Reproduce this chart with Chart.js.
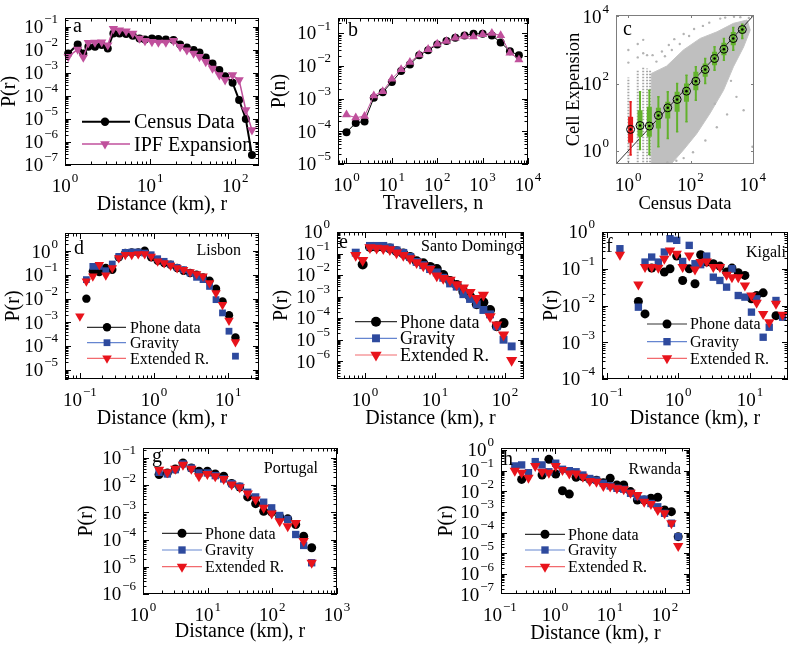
<!DOCTYPE html>
<html>
<head>
<meta charset="utf-8">
<script src="https://cdn.jsdelivr.net/npm/chart.js@4.4.1/dist/chart.umd.min.js"></script>
<style>
  body { margin: 0; background: #fff; }
  #wrap { position: relative; width: 800px; height: 650px; }
  #wrap canvas { position: absolute; left: 0; top: 0; }
</style>
</head>
<body>
<div id="wrap"></div>
<script>
// ---- panel a : trip length distribution, census vs IPF expansion ----
const aDistance = [1.09, 1.41, 1.64, 1.88, 2.25, 2.70, 3.18, 3.70, 4.36, 5.22, 6.25, 7.5, 8.7, 10.5, 12.5, 15.3, 18.8, 22.5, 27, 32.4, 38, 45, 54, 65, 76, 93, 111, 133, 157];
const aCensus = [6.97e-3, 0.0171, 6.97e-3, 0.01355, 0.01355, 0.0160, 0.01148, 0.0514, 0.0514, 0.0481, 0.0406, 0.0312, 0.0282, 0.0312, 0.0292, 0.0282, 0.0264, 0.0171, 0.0127, 9.7e-3, 7.7e-3, 4.68e-3, 2.56e-3, 1.32e-3, 7.2e-4, 3.72e-4, 6.6e-5, 9.9e-6, 2.7e-7];
const aIPF = [5.0e-3, 0.0104, 4.68e-3, 0.0202, 0.0209, 0.0216, 0.0160, 0.0818, 0.0716, 0.0649, 0.0514, 0.0312, 0.0247, 0.0223, 0.0209, 0.0209, 0.0247, 0.01355, 9.7e-3, 6.97e-3, 5.0e-3, 3.03e-3, 1.56e-3, 8.0e-4, 4.86e-4, 8.0e-4, 4.86e-4, 2.43e-5, 3.3e-6];

// ---- panel b : number of travellers per link ----
const bTravellers = [1, 1.6, 2.5, 4, 6.3, 10, 16, 25, 40, 63, 100, 160, 250, 400, 630, 1000, 1600, 2500, 4000, 6300];
const bCensus = [9.3e-5, 1.8e-4, 2.0e-4, 1.05e-3, 1.55e-3, 3.2e-3, 6.9e-3, 0.011, 0.021, 0.030, 0.045, 0.057, 0.072, 0.085, 0.096, 0.096, 0.085, 0.052, 0.028, 0.021];
const bIPF = [3.2e-4, 2.6e-4, 2.9e-4, 1.23e-3, 1.66e-3, 4.0e-3, 7.8e-3, 0.0129, 0.022, 0.032, 0.047, 0.057, 0.072, 0.081, 0.078, 0.091, 0.10, 0.085, 0.025, 0.0155];

// ---- panel c : cell expansion vs census, binned box plots ----
const cCensusBins = [1.18, 2.37, 4.73, 9.24, 18.5, 37, 74, 148, 296, 592, 1183, 2366, 4624];
const cMedian = [4.3, 5.6, 5.4, 11.2, 18.9, 33.5, 59.3, 117, 262, 556, 1054, 2188, 4055];
const cBoxLow = [1.72, 2.59, 2.59, 4.6, 9.1, 14.4, 28.5, 63.4, 158, 352, 698, 1387, 3083];
const cBoxHigh = [10.2, 16.1, 20.2, 18.9, 28.5, 56.6, 100, 223, 394, 877, 1626, 3454, 5093];
const cWhiskerLow = [0.74, 1.09, 0.77, 1.31, 2.31, 3.65, 7.2, 32, 100, 250, 496, 984, 2188];
const cWhiskerHigh = [28.5, 56.6, 63.4, 40.2, 56.6, 100, 177, 314, 556, 1236, 2188, 4645, 5848];
const cCloudX = [5.5, 5.5, 10, 17, 59, 204, 708, 2400, 6600, 8300, 5100, 2400, 1150, 426, 158, 59, 25, 5.5];
const cCloudY = [0.42, 200, 260, 330, 1000, 2200, 3470, 6200, 7800, 3900, 1230, 316, 63, 13, 3.2, 1.04, 0.42, 0.42];
const cStreakX = [1, 2, 3, 4, 5];
const cStreakTop = [150, 260, 300, 280, 250];
const cStreakBottom = 0.45;
const cStrayX = [1, 2, 3, 4, 6, 8, 12, 15, 20, 25, 30, 45, 60, 90, 130, 250, 400, 900, 1300, 2500, 4000, 5100, 9800, 3000, 1500, 700, 300, 120, 60, 35, 18, 600, 2000, 7500, 1, 2, 3];
const cStrayY = [420, 600, 800, 700, 700, 450, 900, 650, 1400, 1000, 2100, 1500, 3000, 2600, 4200, 5200, 6500, 8600, 9200, 9800, 9500, 16, 1.3, 40, 12, 5, 2, 0.9, 0.6, 0.5, 0.45, 25, 120, 9000, 1000, 1500, 2000];
const cDiagonal = [0.4, 11000];

// ---- panels d-h : phone data vs gravity and extended radiation ----
const dDistance = [0.1, 0.1223, 0.1495, 0.1829, 0.2237, 0.2735, 0.3345, 0.409, 0.500, 0.612, 0.748, 0.915, 1.119, 1.368, 1.673, 2.046, 2.502, 3.06, 3.742, 4.577, 5.598, 6.846, 8.372, 10.24, 12.52];
const dPhone = [null, 0.010, 0.143, 0.134, 0.198, 0.168, 0.557, 0.85, 0.91, 0.91, 1.07, 0.557, 0.40, 0.32, 0.273, 0.198, 0.152, 0.122, 0.103, 0.080, 0.058, 0.0265, 7.7e-3, 2.0e-3, 2.3e-4];
const dGravity = [null, 0.064, 0.232, 0.232, 0.152, 0.292, 0.615, 0.91, 0.94, 0.94, 0.85, 0.72, 0.49, 0.38, 0.292, 0.211, 0.168, 0.122, 0.080, 0.064, 0.033, 9.1e-3, 2.5e-3, 4.2e-4, 3.7e-5];
const dExtended = [1.8e-3, 0.054, 0.088, 0.273, 0.097, 0.198, 0.523, 0.72, 0.72, 0.77, 0.77, 0.615, 0.38, 0.32, 0.256, 0.198, 0.168, 0.134, 0.110, 0.088, 0.046, 0.0173, 5.6e-3, 1.18e-3, 1.48e-4];

const eDistance = [0.74, 0.93, 1.18, 1.47, 1.83, 2.27, 2.83, 3.53, 4.4, 5.47, 6.8, 8.5, 10.6, 13.1, 16.4, 20.4, 25.4, 31.6, 39.4, 49, 61, 76, 95, 124];
const ePhone = [null, 0.031, 0.20, 0.20, 0.20, 0.17, 0.128, 0.10, 0.070, 0.044, 0.035, 0.024, 0.019, 0.010, 5.3e-3, 3.5e-3, 1.7e-3, 1.0e-3, 4.4e-4, 5.5e-4, 2.4e-4, 4.2e-5, 5.9e-5, null];
const eGravity = [0.11, null, 0.226, 0.226, 0.226, 0.19, 0.14, 0.107, 0.070, 0.041, 0.029, 0.019, 0.0133, 7.5e-3, 4.1e-3, 2.9e-3, 1.3e-3, 7.8e-4, 4.4e-4, 2.4e-4, 1.5e-4, 4.2e-5, 1.0e-5, 4.9e-6];
const eExtended = [0.084, 0.049, 0.19, 0.18, 0.17, 0.153, 0.11, 0.084, 0.059, 0.038, 0.027, 0.019, 9.3e-3, 7.1e-3, 5.9e-3, 3.7e-3, 2.6e-3, 1.6e-3, 8.4e-4, 1.2e-3, 1.2e-4, 4.9e-5, 1.7e-5, 1.1e-6];

const fDistance = [0.153, 0.277, 0.343, 0.425, 0.526, 0.638, 0.766, 0.95, 1.15, 1.42, 1.71, 2.05, 2.49, 3.08, 3.81, 4.72, 5.61, 6.87, 8.51, 10.5, 12.4, 15.3, 18.6, 23.1, 28.6];
const fPhone = [null, 0.0129, 0.0059, 0.104, null, 0.081, 0.10, 0.221, 0.048, 0.10, 0.039, 0.241, 0.152, 0.137, 0.118, 0.081, 0.104, 0.078, 0.066, 0.0152, 0.0187, 0.0221, null, 5.3e-3, null];
const fGravity = [0.351, 0.009, 0.152, 0.208, 0.152, 0.285, 0.658, 0.593, 0.158, 0.433, 0.137, 0.129, 0.221, 0.059, 0.048, 0.0316, 0.10, 0.0187, 0.0169, 0.0066, 0.0152, 1.37e-3, 2.56e-3, 0.0137, 4.8e-3];
const fExtended = [0.241, 0.0374, 0.111, 0.111, 0.106, 0.187, 0.316, 0.256, 0.111, 0.231, 0.096, 0.152, 0.158, 0.111, 0.111, 0.069, 0.059, 0.059, 0.035, 0.0187, 0.0118, 5.9e-3, 3.5e-3, 0.0111, 5.6e-3];

const gDistance = [1.77, 2.38, 3.16, 4.15, 5.59, 7.34, 9.89, 13.1, 17.7, 23.5, 31.3, 41.6, 55.2, 73.5, 97.7, 130, 173, 230, 305, 406];
const gPhone = [0.0245, 0.0282, 0.0395, 0.0656, 0.043, 0.0324, 0.0324, 0.0259, 0.0213, 0.0115, 8.6e-3, 3.7e-3, 2.1e-3, 1.1e-3, 1.02e-3, 6.9e-4, 5.8e-4, 3.6e-4, 1.34e-4, 5.0e-5];
const gGravity = [0.0298, 0.0259, 0.0373, 0.0603, 0.043, 0.0282, 0.0282, 0.0225, 0.017, 0.0115, 9.1e-3, 5.5e-3, 3.7e-3, 2.37e-3, 1.47e-3, 7.7e-4, 5.5e-4, 1.54e-4, 6.1e-5, 1.41e-5];
const gExtended = [0.0373, 0.0298, 0.0406, 0.057, 0.0406, 0.0213, 0.0259, 0.0213, 0.017, 0.0105, 8.4e-3, 4.9e-3, 2.96e-3, 1.47e-3, 9.1e-4, 4.75e-4, 3.1e-4, 4.1e-4, 8.8e-5, 1.41e-5];

const hDistance = [0.187, 0.249, 0.331, 0.440, 0.585, 0.778, 1.035, 1.375, 1.83, 2.43, 3.23, 4.30, 5.70, 7.59, 10.1, 13.4, 17.8, 23.7, 31.5, 41.9, 55.6, 74.0, 98.4, 131, 174];
const hPhone = [null, 0.038, null, null, 0.062, 0.355, 0.069, 0.0107, 7.4e-3, 0.048, 0.051, 0.038, 0.035, 0.026, 0.043, 0.0204, 0.0204, 9.8e-3, 3.8e-3, 3.8e-3, 4.7e-3, 5.2e-3, 1.26e-3, 1.05e-3, 6.5e-5];
const hGravity = [0.17, 0.19, 0.08, 0.275, 0.19, 0.089, 0.23, 0.117, 0.10, 0.089, 0.062, 0.042, 0.035, 0.0245, 0.0183, 0.0141, 0.0127, 8.1e-3, 5.6e-3, 4.2e-3, 2.6e-3, 1.8e-3, 8.7e-4, 2.9e-4, 6.5e-5];
const hExtended = [0.10, 0.08, 0.046, 0.17, 0.089, 0.08, 0.17, 0.108, 0.074, 0.074, 0.051, 0.032, 0.029, 0.0183, 0.017, 0.0141, 0.0127, 8.7e-3, 6.7e-3, 3.2e-3, 2.44e-3, 1.26e-3, 8.7e-4, 2.9e-4, 2.3e-5];

const SERIF = "'Liberation Serif', 'Times New Roman', Times, serif";
const MAGENTA = '#c0509c';
const BLUE = '#2e4a9e';
const BLUE_LINE = '#6585d0';
const RED = '#e8131b';
const RED_LINE = '#f26a6e';
const GREEN = '#62b22c';
const CRED = '#e41a1c';

function pts(xs, ys) {
    return xs.map((x, i) => ({ x: x, y: ys[i] })).filter(p => p.y !== null);
}

// vertical segments, broken with empty points
function segments(xs, lo, hi) {
    const out = [];
    xs.forEach((x, i) => {
        out.push({ x: x, y: lo[i] }, { x: x, y: hi[i] }, { x: x, y: null });
    });
    return out;
}

function caps(xs, ys) {
    const out = [];
    xs.forEach((x, i) => {
        out.push({ x: x / 1.09, y: ys[i] }, { x: x * 1.09, y: ys[i] }, { x: x, y: null });
    });
    return out;
}

function marker(ctx, style, x, y, r, color, rot) {
    ctx.fillStyle = color;
    ctx.beginPath();
    if (style === 'circle') {
        ctx.arc(x, y, r, 0, Math.PI * 2);
    } else if (style === 'rect') {
        const s = r * Math.SQRT1_2;
        ctx.rect(x - s, y - s, 2 * s, 2 * s);
    } else {
        let rad = (rot || 0) * Math.PI / 180;
        ctx.moveTo(x + Math.sin(rad) * r, y - Math.cos(rad) * r);
        rad += 2 * Math.PI / 3;
        ctx.lineTo(x + Math.sin(rad) * r, y - Math.cos(rad) * r);
        rad += 2 * Math.PI / 3;
        ctx.lineTo(x + Math.sin(rad) * r, y - Math.cos(rad) * r);
        ctx.closePath();
    }
    ctx.fill();
}

function powerLabel(ctx, px, base, exp, size, align) {
    const sup = exp < 0 ? '\u2212' + Math.abs(exp) : String(exp);
    const small = Math.round(size * 0.7);
    ctx.font = size + 'px ' + SERIF;
    const w1 = ctx.measureText('10').width;
    ctx.font = small + 'px ' + SERIF;
    const w2 = ctx.measureText(sup).width;
    const x0 = align === 'center' ? px - (w1 + 1 + w2) / 2 : px - (w1 + 1 + w2);
    ctx.textAlign = 'left';
    ctx.textBaseline = 'alphabetic';
    ctx.font = size + 'px ' + SERIF;
    ctx.fillText('10', x0, base);
    ctx.font = small + 'px ' + SERIF;
    ctx.fillText(sup, x0 + w1 + 1, base - size * 0.52);
}

function logTicks(scale, o) {
    const out = [];
    const lo = Math.floor(Math.log10(scale.min));
    const hi = Math.ceil(Math.log10(scale.max));
    for (let d = lo; d <= hi; d++) {
        for (let m = 1; m <= 9; m++) {
            if (m > 1 && !o.minor) break;
            const v = m * Math.pow(10, d);
            if (v < scale.min * 0.9999 || v > scale.max * 1.0001) continue;
            if (o.tickExps && o.tickExps.indexOf(d) < 0) continue;
            out.push({ v: v, major: m === 1 });
        }
    }
    return out;
}

// box, inward ticks, power-of-ten labels, titles and key
const framePlugin = {
    id: 'frame',
    afterDraw(chart, args, o) {
        const ctx = chart.ctx;
        const a = chart.chartArea;
        const xs = chart.scales.x, ys = chart.scales.y;
        ctx.save();
        ctx.strokeStyle = o.boxColor;
        ctx.lineWidth = 1;
        ctx.beginPath();
        logTicks(xs, o).forEach(t => {
            const p = Math.round(xs.getPixelForValue(t.v)) + 0.5;
            const len = t.major ? o.tickLen : o.minorLen;
            ctx.moveTo(p, a.bottom); ctx.lineTo(p, a.bottom - len);
            ctx.moveTo(p, a.top); ctx.lineTo(p, a.top + len);
        });
        logTicks(ys, o).forEach(t => {
            const p = Math.round(ys.getPixelForValue(t.v)) + 0.5;
            const len = t.major ? o.tickLen : o.minorLen;
            ctx.moveTo(a.left, p); ctx.lineTo(a.left + len, p);
            ctx.moveTo(a.right, p); ctx.lineTo(a.right - len, p);
        });
        ctx.stroke();
        ctx.strokeRect(a.left + 0.5, a.top + 0.5, a.right - a.left - 1, a.bottom - a.top - 1);

        ctx.fillStyle = '#000';
        o.xExps.forEach(e => powerLabel(ctx, xs.getPixelForValue(Math.pow(10, e)), a.bottom + 27, e, o.tickSize, 'center'));
        o.yExps.forEach(e => powerLabel(ctx, a.left - 7, ys.getPixelForValue(Math.pow(10, e)) + o.tickSize * 0.33, e, o.tickSize, 'right'));

        ctx.font = o.titleSize + 'px ' + SERIF;
        ctx.textAlign = 'center';
        ctx.textBaseline = 'alphabetic';
        ctx.fillText(o.xTitle, (a.left + a.right) / 2, a.bottom + (o.xTitleDy || 45));
        ctx.save();
        ctx.translate(o.yTitleX, (a.top + a.bottom) / 2);
        ctx.rotate(-Math.PI / 2);
        ctx.textBaseline = 'middle';
        ctx.fillText(o.yTitle, 0, 0);
        ctx.restore();

        ctx.textBaseline = 'alphabetic';
        ctx.font = '20px ' + SERIF;
        ctx.textAlign = 'left';
        ctx.fillText(o.letter[0], o.letter[1], o.letter[2]);
        if (o.city) {
            ctx.font = '16px ' + SERIF;
            ctx.textAlign = 'right';
            ctx.fillText(o.city[0], o.city[1], o.city[2]);
        }

        if (o.legend) {
            const L = o.legend;
            L.rows.forEach(r => {
                ctx.strokeStyle = r.line;
                ctx.lineWidth = r.lw || 1.2;
                ctx.beginPath();
                ctx.moveTo(L.x1, r.y);
                ctx.lineTo(L.x2, r.y);
                ctx.stroke();
                marker(ctx, r.style, L.mx, r.y, r.r, r.color, r.rot);
                ctx.fillStyle = '#000';
                ctx.font = L.size + 'px ' + SERIF;
                ctx.textAlign = 'left';
                ctx.textBaseline = 'alphabetic';
                ctx.fillText(r.text, L.tx, r.y + L.size * 0.33);
            });
        }
        ctx.restore();
    }
};

function makePanel(frame, xRange, yRange, datasets) {
    const cv = document.createElement('canvas');
    cv.width = 800;
    cv.height = 650;
    document.getElementById('wrap').appendChild(cv);
    const b = frame.box;
    return new Chart(cv.getContext('2d'), {
        type: 'scatter',
        data: { datasets: datasets },
        options: {
            responsive: false,
            animation: false,
            devicePixelRatio: 1,
            events: [],
            layout: { padding: { left: b[0], top: b[1], right: 800 - b[2], bottom: 650 - b[3] } },
            scales: {
                x: { type: 'logarithmic', min: xRange[0], max: xRange[1], display: false },
                y: { type: 'logarithmic', min: yRange[0], max: yRange[1], display: false }
            },
            plugins: { legend: { display: false }, tooltip: { enabled: false }, frame: frame }
        },
        plugins: [framePlugin]
    });
}

function frameDefaults(extra) {
    return Object.assign({
        boxColor: '#000', minor: true, tickLen: 6, minorLen: 3.5, tickExps: null,
        tickSize: 19, titleSize: 20, xTitle: 'Distance (km), r', yTitle: 'P(r)'
    }, extra);
}

function modelKey(size, x1, x2, mx, tx, ys, sz) {
    return {
        size: size, x1: x1, x2: x2, mx: mx, tx: tx,
        rows: [
            { text: 'Phone data', y: ys[0], style: 'circle', color: '#000', line: '#333', r: sz[0] },
            { text: 'Gravity', y: ys[1], style: 'rect', color: BLUE, line: BLUE_LINE, r: sz[1] },
            { text: 'Extended R.', y: ys[2], style: 'triangle', rot: 180, color: RED, line: RED_LINE, r: sz[2] }
        ]
    };
}

function modelSets(x, phone, gravity, extended, sz) {
    return [
        { data: pts(x, extended), pointStyle: 'triangle', pointRotation: 180, pointRadius: sz[2], pointBorderWidth: 0,
          pointBackgroundColor: RED, showLine: false, order: 1, clip: false },
        { data: pts(x, gravity), pointStyle: 'rect', pointRadius: sz[1], pointBorderWidth: 0,
          pointBackgroundColor: BLUE, showLine: false, order: 2, clip: false },
        { data: pts(x, phone), pointStyle: 'circle', pointRadius: sz[0], pointBorderWidth: 0,
          pointBackgroundColor: '#000', showLine: false, order: 3, clip: false }
    ];
}

// a
makePanel(frameDefaults({
    box: [65, 18, 259, 165], xExps: [0, 1, 2], yExps: [-1, -2, -3, -4, -5, -6, -7],
    yTitleX: 10, letter: ['a', 73, 32],
    legend: { size: 20, x1: 82, x2: 130, mx: 105, tx: 134, rows: [
        { text: 'Census Data', y: 121.7, style: 'circle', color: '#000', line: '#000', lw: 2, r: 4.2 },
        { text: 'IPF Expansion', y: 144, style: 'triangle', rot: 180, color: MAGENTA, line: MAGENTA, lw: 1.5, r: 5.6 }
    ] }
}), [1, 190], [1e-7, 0.24], [
    { data: pts(aDistance, aIPF), showLine: true, borderColor: MAGENTA, borderWidth: 1.5,
      pointStyle: 'triangle', pointRotation: 180, pointRadius: 5.4, pointBorderWidth: 0,
      pointBackgroundColor: MAGENTA, order: 1, clip: false },
    { data: pts(aDistance, aCensus), showLine: true, borderColor: '#000', borderWidth: 2,
      pointRadius: 4, pointBorderWidth: 0, pointBackgroundColor: '#000', order: 2, clip: false }
]);

// b
makePanel(frameDefaults({
    box: [338, 18, 528, 164], xExps: [0, 1, 2, 3, 4], yExps: [-1, -2, -3, -4, -5],
    xTitle: 'Travellers, n', yTitle: 'P(n)', yTitleX: 280, letter: ['b', 348, 36]
}), [0.65, 10000], [1e-5, 0.29], [
    { data: pts(bTravellers, bIPF), showLine: true, borderColor: MAGENTA, borderWidth: 1,
      pointStyle: 'triangle', pointRadius: 5.2, pointBorderWidth: 0, pointBackgroundColor: MAGENTA, order: 1, clip: false },
    { data: pts(bTravellers, bCensus), showLine: true, borderColor: '#000', borderWidth: 1,
      pointRadius: 4, pointBorderWidth: 0, pointBackgroundColor: '#000', order: 2, clip: false }
]);

// c
const greenIdx = cCensusBins.map((v, i) => i).slice(1);
const pick = (arr, idx) => idx.map(i => arr[i]);
makePanel(frameDefaults({
    box: [616, 15, 754, 164], boxColor: '#7d7d7d', minor: false, tickLen: 3, tickExps: [0, 2, 4],
    xExps: [0, 2, 4], yExps: [0, 2, 4], titleSize: 18.5,
    xTitle: 'Census Data', yTitle: 'Cell Expension', yTitleX: 574, letter: ['c', 623, 35]
}), cDiagonal, cDiagonal, [
    { data: pts(cCloudX, cCloudY), showLine: true, fill: 'shape', backgroundColor: '#bfbfbf',
      borderColor: '#c4c4c4', borderWidth: 1, pointRadius: 0, order: 10 },
    { data: segments(cStreakX, cStreakX.map(() => cStreakBottom), cStreakTop), showLine: true,
      borderColor: '#a6a6a6', borderWidth: 2, borderDash: [1.5, 1.5], pointRadius: 0, order: 9 },
    { data: pts(cStrayX, cStrayY), pointRadius: 1.2, pointBorderWidth: 0, pointBackgroundColor: '#b3b3b3', order: 8 },
    { data: pts(cDiagonal, cDiagonal), showLine: true, borderColor: '#000', borderWidth: 0.8, pointRadius: 0, order: 7 },
    { data: segments(pick(cCensusBins, greenIdx), pick(cWhiskerLow, greenIdx), pick(cWhiskerHigh, greenIdx)),
      showLine: true, borderColor: GREEN, borderWidth: 2, pointRadius: 0, order: 6 },
    { data: caps(pick(cCensusBins, greenIdx), pick(cWhiskerLow, greenIdx)).concat(caps(pick(cCensusBins, greenIdx), pick(cWhiskerHigh, greenIdx))),
      showLine: true, borderColor: GREEN, borderWidth: 1.5, pointRadius: 0, order: 6 },
    { data: segments(pick(cCensusBins, greenIdx), pick(cBoxLow, greenIdx), pick(cBoxHigh, greenIdx)),
      showLine: true, borderColor: GREEN, borderWidth: 5, pointRadius: 0, order: 5 },
    { data: segments([cCensusBins[0]], [cWhiskerLow[0]], [cWhiskerHigh[0]]),
      showLine: true, borderColor: CRED, borderWidth: 2, pointRadius: 0, order: 6 },
    { data: caps([cCensusBins[0]], [cWhiskerLow[0]]).concat(caps([cCensusBins[0]], [cWhiskerHigh[0]])),
      showLine: true, borderColor: CRED, borderWidth: 1.5, pointRadius: 0, order: 6 },
    { data: segments([cCensusBins[0]], [cBoxLow[0]], [cBoxHigh[0]]),
      showLine: true, borderColor: CRED, borderWidth: 5, pointRadius: 0, order: 5 },
    { data: pts(cCensusBins, cMedian), pointRadius: 4, pointBorderWidth: 1, pointBorderColor: '#000',
      pointBackgroundColor: 'rgba(0,0,0,0)', order: 2, clip: false },
    { data: pts(cCensusBins, cMedian), pointRadius: 1.3, pointBorderWidth: 0, pointBackgroundColor: '#000', order: 1 }
]);

// d
const dSz = [4.2, 4.8, 5.5];
makePanel(frameDefaults({
    box: [65, 233, 259, 379], xExps: [-1, 0, 1], yExps: [0, -1, -2, -3, -4, -5],
    yTitleX: 14, letter: ['d', 74, 254], city: ['Lisbon', 241, 255],
    legend: modelKey(16, 87, 126, 107, 130, [327.3, 342.7, 358.3], dSz)
}), [0.063, 26], [4e-6, 6], modelSets(dDistance, dPhone, dGravity, dExtended, dSz));

// e
const eSz = [5, 5.6, 6.5];
makePanel(frameDefaults({
    box: [337, 232, 524, 379], xExps: [0, 1, 2], yExps: [0, -1, -2, -3, -4, -5, -6],
    yTitleX: 282, letter: ['e', 339, 248], city: ['Santo Domingo', 522, 251],
    legend: modelKey(18, 355, 397, 376, 400, [321.7, 338.3, 355], eSz)
}), [0.4, 186], [1.5e-7, 1], modelSets(eDistance, ePhone, eGravity, eExtended, eSz));

// f
const fSz = [4.5, 5.2, 6];
makePanel(frameDefaults({
    box: [602, 232, 788, 379], xExps: [-1, 0, 1], yExps: [0, -1, -2, -3, -4],
    yTitleX: 552, letter: ['f', 606, 252], city: ['Kigali', 786, 257],
    legend: modelKey(16, 647, 687, 667, 690, [324, 341.7, 358.3], fSz)
}), [0.086, 34], [1e-4, 1], modelSets(fDistance, fPhone, fGravity, fExtended, fSz));

// g
makePanel(frameDefaults({
    box: [143, 448, 337, 594], xExps: [0, 1, 2, 3], yExps: [-1, -2, -3, -4, -5, -6], xTitleDy: 43,
    yTitleX: 87, letter: ['g', 152, 462], city: ['Portugal', 318, 473],
    legend: modelKey(16, 162, 202, 182, 205, [533.3, 550, 566.7], fSz)
}), [1, 1000], [1e-6, 0.233], modelSets(gDistance, gPhone, gGravity, gExtended, fSz));

// h
makePanel(frameDefaults({
    box: [501, 448, 690, 594], xExps: [-1, 0, 1, 2], yExps: [0, -1, -2, -3, -4, -5, -6, -7],
    yTitleX: 447, letter: ['h', 503, 465], city: ['Rwanda', 681, 474],
    legend: modelKey(16, 525, 565, 545, 568, [534.3, 550, 566.7], fSz)
}), [0.105, 285], [1.1e-7, 1.25], modelSets(hDistance, hPhone, hGravity, hExtended, fSz));
</script>
</body>
</html>
